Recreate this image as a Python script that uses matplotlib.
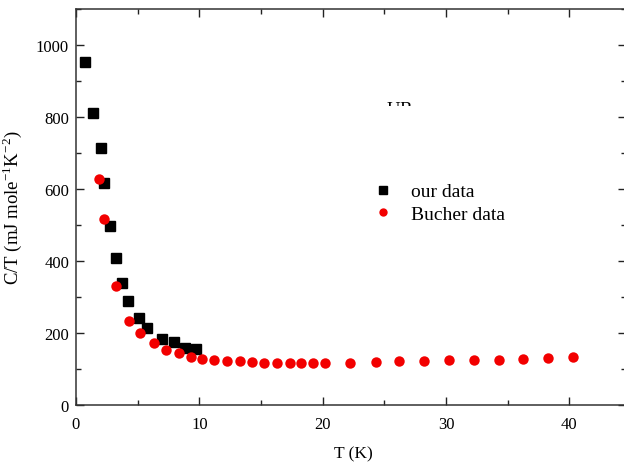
import matplotlib
matplotlib.use('Agg')
import matplotlib.pyplot as plt
from matplotlib.transforms import Bbox, TransformedBbox
from matplotlib.ticker import MultipleLocator

plt.rcParams['font.family'] = ['Liberation Serif', 'DejaVu Serif']
plt.rcParams['mathtext.fontset'] = 'custom'
plt.rcParams['mathtext.rm'] = 'Liberation Serif'

# our measurement
our_t = [0.73, 1.40, 2.00, 2.30, 2.76, 3.22, 3.75, 4.19, 5.08, 5.76,
         6.95, 7.92, 8.86, 9.73]
our_ct = [954, 810, 714, 615, 497, 407, 337, 288, 241, 212,
          182, 174, 158, 156]

# Bucher et al.
bucher_t = [1.87, 2.25, 3.24, 4.27, 5.17, 6.30, 7.30, 8.33, 9.33, 10.22,
            11.22, 12.27, 13.28, 14.27, 15.27, 16.28, 17.33, 18.22, 19.18,
            20.22, 22.25, 24.33, 26.2, 28.22, 30.28, 32.28, 34.33, 36.23,
            38.26, 40.28]
bucher_ct = [627, 515, 331, 233, 198, 171, 152, 143, 133, 127,
             125, 121, 121, 119, 117, 117, 116, 117, 116,
             117, 117, 118, 121, 121, 124, 124, 124, 126,
             130, 133]

fig = plt.figure(figsize=(6.24, 4.64), dpi=100)
ax = fig.add_axes([76 / 624, 58.3 / 464, 550 / 624, 395.7 / 464])

ax.plot(our_t, our_ct, ls='none', marker='s', ms=6.5, color='black',
        label='our data')
ax.plot(bucher_t, bucher_ct, ls='none', marker='o', ms=7.5, color='#f20000',
        mec='none', label='Bucher data')

ax.set_xlim(0, 44.6)
ax.set_ylim(0, 1100)
ax.xaxis.set_major_locator(MultipleLocator(10))
ax.xaxis.set_minor_locator(MultipleLocator(5))
ax.yaxis.set_major_locator(MultipleLocator(200))
ax.yaxis.set_minor_locator(MultipleLocator(100))
ax.tick_params(which='both', direction='in', top=True, right=True,
               labelsize=12, color='#222222')
ax.tick_params(which='major', length=6, width=1)
ax.tick_params(which='minor', length=3.5, width=1)
ax.tick_params(axis='x', pad=8)
ax.tick_params(axis='y', pad=5)
for s in ax.spines.values():
    s.set_color('#333333')
    s.set_linewidth(1.1)

ax.set_xlabel('T (K)', fontsize=12.5)
ax.xaxis.set_label_coords(0.505, -0.104)
ax.set_ylabel('C/T (mJ mole$^{-1}$K$^{-2}$)', fontsize=13.5)
ax.yaxis.set_label_coords(-0.095, 0.5)

# compound name, only its upper part is left visible
name = ax.text(25.14, 808, 'UBe$_{13}$', fontsize=13.3, va='baseline',
               ha='left')
name.set_clip_on(True)
name.set_clip_box(TransformedBbox(Bbox([[0, 830], [45, 1100]]), ax.transData))

ax.legend(loc='upper left', bbox_to_anchor=(0.5405, 0.561), frameon=False,
          fontsize=14, handletextpad=0.94, labelspacing=0.25,
          handlelength=1.0, borderaxespad=0, borderpad=0, markerscale=0.8)

fig.savefig('out.png', dpi=100)
